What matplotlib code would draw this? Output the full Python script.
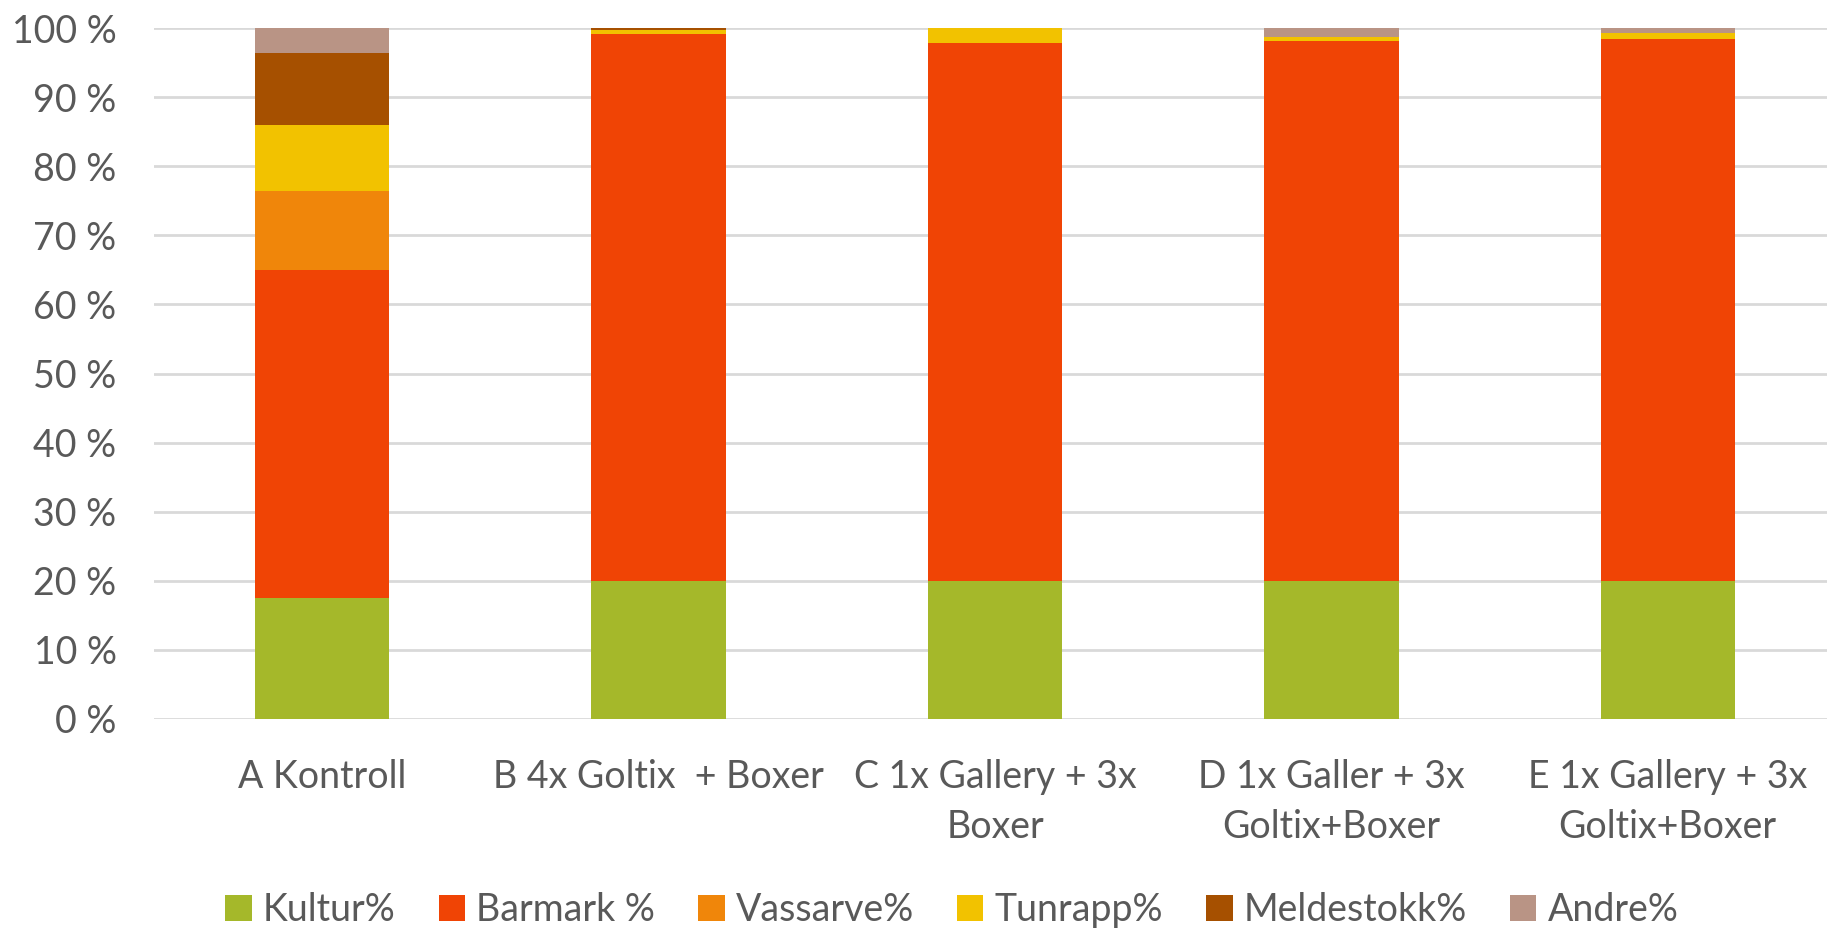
import matplotlib
matplotlib.use("Agg")
import matplotlib.pyplot as plt
import numpy as np

plt.rcParams['font.family'] = ['Lato', 'DejaVu Sans']

categories = ['A Kontroll', 'B 4x Goltix  + Boxer', 'C 1x Gallery + 3x\nBoxer',
              'D 1x Galler + 3x\nGoltix+Boxer', 'E 1x Gallery + 3x\nGoltix+Boxer']
series = ['Kultur%', 'Barmark %', 'Vassarve%', 'Tunrapp%', 'Meldestokk%', 'Andre%']
kultur = [17.5, 20.0, 20.0, 20.0, 20.0]
barmark = [47.5, 79.2, 77.8, 78.1, 78.5]
vassarve = [11.5, 0.0, 0.0, 0.0, 0.0]
tunrapp = [9.5, 0.6, 2.2, 0.7, 0.8]
meldestokk = [10.4, 0.2, 0.0, 0.0, 0.0]
andre = [3.6, 0.0, 0.0, 1.2, 0.7]
colors = ['#A5B82A', '#F04405', '#F0860A', '#F2C200', '#A65000', '#B99485']

data = [kultur, barmark, vassarve, tunrapp, meldestokk, andre]

fig = plt.figure(figsize=(18.27, 9.31), dpi=100)
ax = fig.add_axes([154/1827, 1-718.7/931, (1836-154)/1827, (718.7-28.3)/931])

x = np.arange(len(categories))
bottom = np.zeros(len(categories))
for vals, name, c in zip(data, series, colors):
    ax.bar(x, vals, 0.4, bottom=bottom, color=c, label=name, zorder=3)
    bottom += np.array(vals)

ax.set_xlim(-0.5, 4.5)
ax.set_ylim(0, 100)
ax.set_yticks(range(0, 101, 10))
ax.set_yticklabels([f'{v} %' for v in range(0, 101, 10)])
ax.set_xticks(x)
ax.set_xticklabels(categories, linespacing=1.5)
ax.grid(axis='y', color='#D9D9D9', linewidth=2, zorder=0)
for s in ax.spines.values():
    s.set_visible(False)
ax.tick_params(length=0, labelsize=27, colors='#595959')
ax.tick_params(axis='y', pad=27)
ax.tick_params(axis='x', pad=29)

fig.legend(loc='center', bbox_to_anchor=(952/1827, 1-910/931), ncol=6, frameon=False,
           fontsize=27, labelcolor='#595959', handlelength=0.7, handleheight=0.7,
           handletextpad=0.3, columnspacing=1.15)

fig.savefig('out.png', dpi=100)
